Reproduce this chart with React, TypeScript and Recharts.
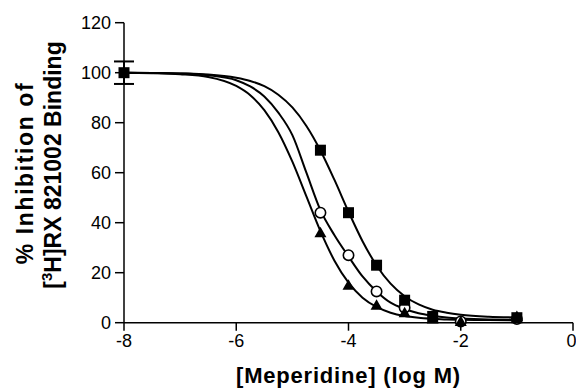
import { ComposedChart, Line, Scatter, XAxis, YAxis, ErrorBar } from 'recharts';

const FONT = '"Liberation Sans", Arial, Helvetica, sans-serif';

// fitted curves at these log M positions
const curveLogM = [-8, -7.5, -7, -6.5, -6, -5.75, -5.5, -5.25, -5, -4.75, -4.5, -4.25, -4, -3.75, -3.5, -3.25, -3, -2.75, -2.5, -2.25, -2, -1.5, -1];
const squareCurve = [100, 99.9, 99.7, 99.3, 98, 96.7, 94.6, 91.2, 86.1, 78.7, 68.9, 57.1, 44.4, 32.6, 22.9, 15.6, 10.6, 7.3, 5.2, 4, 3.2, 2.4, 2.1];
const circleCurve = [100, 99.9, 99.7, 99, 97, 94.5, 90.5, 84, 75, 60, 45, 35, 26.5, 18.5, 12.5, 8, 5.5, 3.8, 2.8, 2.1, 1.7, 1.3, 1.2];
const triangleCurve = [100, 99.8, 99.4, 98.3, 94.7, 91, 85, 76.2, 64.4, 50.5, 36.6, 24.8, 16, 10, 6.3, 4, 2.7, 2, 1.6, 1.3, 1.2, 1.05, 1];

// measured points
const squareX = [-8, -4.5, -4, -3.5, -3, -2.5, -1];
const squareY = [100, 69, 44, 23, 9, 2.5, 2];
const squareErr = [4.5];
const circleX = [-4.5, -4, -3.5, -3, -2, -1];
const circleY = [44, 27, 12.5, 6, 0.5, 1.5];
const triangleX = [-4.5, -4, -3.5, -3, -2.5, -2, -1];
const triangleY = [36, 15, 7, 4, 1.5, 0.5, 2.5];

const xTicks = [-8, -6, -4, -2, 0];
const yTicks = [0, 20, 40, 60, 80, 100, 120];

const toCurve = (ys: number[]) => curveLogM.map((x, i) => ({ x, y: ys[i] }));
const toPoints = (xs: number[], ys: number[], errs: number[] = []) =>
  xs.map((x, i) => ({ x, y: ys[i], err: errs[i] }));

const SquareDot = (p: any) => <rect x={p.cx - 5.5} y={p.cy - 5.5} width={11} height={11} fill="#000" />;
const CircleDot = (p: any) => <circle cx={p.cx} cy={p.cy} r={5.2} fill="#fff" stroke="#000" strokeWidth={1.6} />;
const TriangleDot = (p: any) => (
  <polygon points={`${p.cx},${p.cy - 6} ${p.cx - 6},${p.cy + 4.5} ${p.cx + 6},${p.cy + 4.5}`} fill="#000" />
);

const YTitle = () => (
  <g fontFamily={FONT} fontWeight="bold" fontSize={23} fill="#000">
    <text x={33} y={173} transform="rotate(-90 33 173)" textAnchor="middle" letterSpacing={1.6}>% Inhibition of</text>
    <text x={61} y={165} transform="rotate(-90 61 165)" textAnchor="middle">
      [<tspan fontSize={15} dy={-9}>3</tspan><tspan dy={9}>H]RX 821002 Binding</tspan>
    </text>
  </g>
);

export default function App() {
  const tick = { fill: '#000', fontSize: 18, fontFamily: FONT };
  return (
    <div style={{ position: 'absolute', left: 0, top: 0, background: '#fff' }}>
      <ComposedChart width={576} height={389} margin={{ top: 22.7, right: 3, bottom: 0, left: 0 }}>
        <XAxis
          type="number"
          dataKey="x"
          domain={[-8, 0]}
          ticks={xTicks}
          height={66.3}
          tick={tick}
          tickSize={8}
          tickMargin={4}
          stroke="#000"
          strokeWidth={1.5}
          label={{ value: '[Meperidine] (log M)', position: 'insideBottom', offset: 6, fill: '#000', fontSize: 22, fontWeight: 'bold', fontFamily: FONT, letterSpacing: 0.8 }}
        />
        <YAxis
          type="number"
          dataKey="y"
          domain={[0, 120]}
          ticks={yTicks}
          width={124}
          tick={tick}
          tickSize={9}
          tickMargin={4}
          stroke="#000"
          strokeWidth={1.5}
          label={{ content: () => <YTitle /> }}
        />
        <Line data={toCurve(squareCurve)} dataKey="y" type="monotone" stroke="#000" strokeWidth={2} dot={false} isAnimationActive={false} />
        <Line data={toCurve(circleCurve)} dataKey="y" type="monotone" stroke="#000" strokeWidth={2} dot={false} isAnimationActive={false} />
        <Line data={toCurve(triangleCurve)} dataKey="y" type="monotone" stroke="#000" strokeWidth={2} dot={false} isAnimationActive={false} />
        <Scatter data={toPoints(circleX, circleY)} dataKey="y" shape={CircleDot} isAnimationActive={false} />
        <Scatter data={toPoints(triangleX, triangleY)} dataKey="y" shape={TriangleDot} isAnimationActive={false} />
        <Scatter data={toPoints(squareX, squareY, squareErr)} dataKey="y" shape={SquareDot} isAnimationActive={false}>
          <ErrorBar dataKey="err" direction="y" width={10} stroke="#000" strokeWidth={2} />
        </Scatter>
      </ComposedChart>
    </div>
  );
}
